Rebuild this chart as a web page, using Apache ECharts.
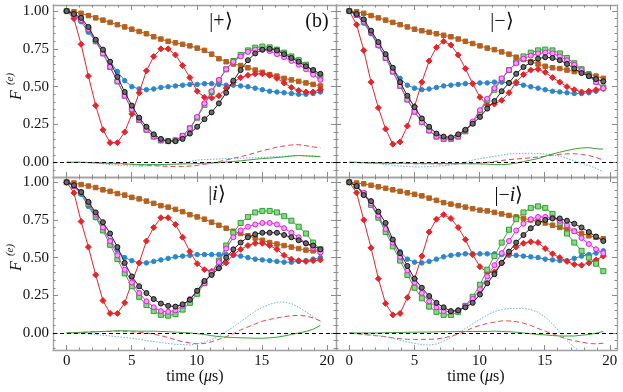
<!DOCTYPE html>
<html><head><meta charset="utf-8">
<script src="https://cdn.jsdelivr.net/npm/echarts@6/dist/echarts.min.js"></script>
<style>html,body{margin:0;padding:0;background:#fff}#c{width:623px;height:392px}</style>
</head><body><div id="c"></div>
<script>
const time = [0,0.56,1.11,1.67,2.23,2.79,3.34,3.9,4.46,5.01,5.57,6.13,6.69,7.24,7.8,8.36,8.91,9.47,10.03,10.59,11.14,11.7,12.26,12.81,13.37,13.93,14.49,15.04,15.6,16.16,16.71,17.27,17.83,18.39,18.94,19.5];
const xTicks = [0,5,10,15,20];
const yTicks = [0,0.25,0.5,0.75,1];

// |+>
const plusOrange = [1.00,0.995,0.985,0.97,0.955,0.94,0.925,0.91,0.895,0.88,0.865,0.85,0.83,0.815,0.80,0.79,0.78,0.77,0.755,0.74,0.715,0.685,0.665,0.65,0.64,0.625,0.61,0.595,0.58,0.57,0.555,0.545,0.535,0.525,0.515,0.505];
const plusBlue = [1.0,0.98,0.93,0.86,0.80,0.73,0.665,0.60,0.54,0.50,0.485,0.48,0.485,0.495,0.50,0.505,0.51,0.515,0.515,0.52,0.52,0.515,0.51,0.51,0.505,0.50,0.49,0.48,0.47,0.465,0.46,0.455,0.45,0.45,0.455,0.465];
const plusRed = [1.0,0.95,0.78,0.57,0.375,0.215,0.13,0.13,0.20,0.32,0.46,0.605,0.70,0.75,0.75,0.71,0.64,0.56,0.47,0.43,0.425,0.44,0.49,0.53,0.56,0.575,0.585,0.585,0.575,0.555,0.525,0.495,0.475,0.465,0.465,0.48];
const plusBlack = [1.0,0.98,0.955,0.895,0.81,0.745,0.665,0.565,0.465,0.375,0.295,0.235,0.185,0.155,0.14,0.14,0.155,0.19,0.235,0.285,0.33,0.39,0.46,0.54,0.61,0.675,0.72,0.745,0.75,0.74,0.715,0.69,0.665,0.635,0.61,0.585];
const plusMagenta = [1.0,0.975,0.94,0.88,0.80,0.72,0.63,0.535,0.44,0.35,0.28,0.215,0.17,0.145,0.14,0.145,0.175,0.225,0.30,0.39,0.47,0.545,0.615,0.665,0.70,0.73,0.745,0.745,0.735,0.715,0.695,0.67,0.645,0.615,0.58,0.545];
const plusGreen = [1.0,0.975,0.94,0.88,0.80,0.72,0.63,0.535,0.44,0.35,0.28,0.215,0.17,0.145,0.14,0.145,0.175,0.225,0.295,0.38,0.465,0.54,0.615,0.67,0.71,0.74,0.758,0.765,0.76,0.745,0.725,0.70,0.675,0.645,0.605,0.565];
const plusRedDash = [0,0,0,0,-0.002,-0.005,-0.008,-0.01,-0.012,-0.015,-0.018,-0.02,-0.022,-0.025,-0.027,-0.028,-0.028,-0.025,-0.02,-0.013,-0.005,0.005,0.015,0.027,0.037,0.05,0.063,0.077,0.088,0.10,0.108,0.115,0.117,0.11,0.102,0.095];
const plusBlueDot = [0,0,0,-0.003,-0.005,-0.01,-0.015,-0.02,-0.022,-0.025,-0.025,-0.025,-0.022,-0.02,-0.018,-0.015,-0.01,0.005,0.015,0.018,0.02,0.022,0.025,0.025,0.027,0.03,0.03,0.032,0.035,0.037,0.04,0.042,0.045,0.045,0.043,0.04];
const plusGreenLine = [0,0,0,-0.002,-0.003,-0.005,-0.005,-0.007,-0.01,-0.012,-0.015,-0.015,-0.015,-0.015,-0.013,-0.012,-0.01,-0.01,-0.008,-0.006,-0.004,-0.002,0.002,0.006,0.01,0.015,0.02,0.025,0.028,0.032,0.036,0.042,0.045,0.042,0.04,0.037];

// |->
const minusOrange = [1.0,0.995,0.985,0.97,0.955,0.94,0.925,0.91,0.895,0.88,0.87,0.86,0.85,0.84,0.83,0.815,0.80,0.785,0.77,0.755,0.745,0.73,0.715,0.695,0.68,0.665,0.65,0.635,0.625,0.62,0.61,0.60,0.595,0.585,0.57,0.555];
const minusBlue = [1.0,0.975,0.92,0.85,0.77,0.69,0.62,0.555,0.51,0.49,0.48,0.485,0.495,0.505,0.51,0.515,0.52,0.52,0.525,0.525,0.53,0.53,0.525,0.52,0.51,0.50,0.49,0.48,0.47,0.465,0.46,0.455,0.455,0.46,0.47,0.485];
const minusRed = [1.0,0.91,0.74,0.53,0.36,0.22,0.12,0.135,0.24,0.37,0.53,0.67,0.76,0.80,0.775,0.71,0.62,0.52,0.43,0.38,0.385,0.41,0.46,0.53,0.58,0.61,0.615,0.595,0.56,0.53,0.50,0.48,0.465,0.47,0.48,0.49];
const minusBlack = [1.0,0.98,0.945,0.87,0.795,0.715,0.625,0.53,0.44,0.365,0.29,0.235,0.19,0.17,0.165,0.185,0.215,0.255,0.30,0.355,0.405,0.47,0.525,0.585,0.63,0.66,0.685,0.695,0.69,0.675,0.65,0.62,0.59,0.57,0.55,0.535];
const minusMagenta = [1.0,0.975,0.93,0.86,0.775,0.69,0.60,0.505,0.415,0.335,0.265,0.21,0.17,0.155,0.155,0.17,0.21,0.27,0.345,0.42,0.49,0.555,0.61,0.655,0.685,0.705,0.72,0.725,0.72,0.70,0.675,0.645,0.61,0.57,0.53,0.49];
const minusGreen = [1.0,0.975,0.93,0.86,0.775,0.69,0.60,0.505,0.415,0.335,0.265,0.21,0.17,0.155,0.155,0.17,0.205,0.26,0.33,0.41,0.48,0.55,0.61,0.66,0.70,0.725,0.74,0.745,0.74,0.72,0.69,0.655,0.615,0.575,0.535,0.495];
const minusRedDash = [0,-0.002,-0.004,-0.005,-0.006,-0.007,-0.008,-0.008,-0.009,-0.01,-0.01,-0.01,-0.01,-0.01,-0.01,-0.01,-0.009,-0.008,-0.005,0,0.005,0.012,0.018,0.022,0.026,0.03,0.035,0.04,0.047,0.053,0.056,0.057,0.052,0.045,0.032,0.015];
const minusBlueDot = [0,0,-0.003,-0.005,-0.008,-0.015,-0.02,-0.025,-0.028,-0.03,-0.03,-0.028,-0.025,-0.022,-0.018,-0.012,0,0.015,0.025,0.032,0.04,0.048,0.055,0.058,0.06,0.06,0.058,0.055,0.05,0.04,0.025,0.01,-0.005,-0.02,-0.04,-0.062];
const minusGreenLine = [0,0,-0.002,-0.003,-0.004,-0.005,-0.005,-0.005,-0.006,-0.006,-0.007,-0.007,-0.008,-0.008,-0.008,-0.008,-0.009,-0.01,-0.01,-0.012,-0.015,-0.015,-0.012,-0.005,0.005,0.015,0.025,0.04,0.055,0.067,0.078,0.088,0.095,0.097,0.09,0.087];

// |i>
const iOrange = [1.0,0.995,0.985,0.975,0.965,0.95,0.94,0.925,0.915,0.90,0.89,0.875,0.86,0.845,0.835,0.82,0.805,0.785,0.77,0.755,0.735,0.715,0.695,0.675,0.66,0.645,0.63,0.615,0.60,0.59,0.58,0.57,0.56,0.55,0.545,0.54];
const iBlue = [1.0,0.975,0.92,0.84,0.765,0.69,0.615,0.55,0.50,0.48,0.465,0.465,0.475,0.485,0.495,0.505,0.51,0.515,0.52,0.52,0.52,0.52,0.52,0.515,0.51,0.50,0.49,0.485,0.48,0.475,0.47,0.47,0.475,0.48,0.49,0.50];
const iRed = [1.0,0.93,0.74,0.57,0.385,0.215,0.13,0.13,0.20,0.335,0.465,0.61,0.70,0.765,0.765,0.72,0.635,0.54,0.46,0.42,0.41,0.43,0.465,0.52,0.555,0.58,0.595,0.595,0.58,0.555,0.515,0.49,0.48,0.475,0.48,0.485];
const iBlack = [1.0,0.98,0.935,0.87,0.80,0.735,0.66,0.57,0.465,0.375,0.31,0.265,0.225,0.195,0.18,0.175,0.19,0.22,0.28,0.345,0.385,0.43,0.50,0.555,0.60,0.635,0.655,0.665,0.665,0.665,0.65,0.635,0.615,0.595,0.58,0.555];
const iMagenta = [1.0,0.975,0.935,0.865,0.785,0.70,0.61,0.515,0.42,0.335,0.265,0.21,0.17,0.145,0.14,0.15,0.18,0.225,0.28,0.33,0.40,0.47,0.56,0.635,0.68,0.705,0.72,0.73,0.73,0.72,0.695,0.665,0.635,0.595,0.565,0.535];
const iGreen = [1.0,0.975,0.93,0.855,0.77,0.68,0.585,0.49,0.395,0.31,0.24,0.185,0.145,0.12,0.115,0.125,0.155,0.20,0.26,0.33,0.40,0.48,0.58,0.665,0.73,0.77,0.80,0.81,0.81,0.80,0.775,0.745,0.705,0.66,0.60,0.555];
const iRedDash = [0,0.002,0.004,0.006,0.008,0.01,0.01,0.012,0.01,0.008,0.005,0,-0.008,-0.018,-0.03,-0.045,-0.058,-0.066,-0.072,-0.07,-0.058,-0.042,-0.025,-0.005,0.02,0.04,0.06,0.078,0.09,0.10,0.108,0.115,0.117,0.113,0.10,0.08];
const iBlueDot = [0,0,-0.003,-0.006,-0.01,-0.015,-0.02,-0.025,-0.03,-0.035,-0.042,-0.05,-0.057,-0.063,-0.07,-0.075,-0.078,-0.08,-0.072,-0.06,-0.045,-0.02,0.008,0.04,0.075,0.11,0.145,0.17,0.19,0.205,0.205,0.195,0.17,0.14,0.11,0.075];
const iGreenLine = [0,0.002,0.004,0.006,0.008,0.01,0.012,0.015,0.015,0.013,0.012,0.012,0.012,0.01,0.008,0.006,0.003,0,-0.005,-0.01,-0.018,-0.024,-0.028,-0.03,-0.032,-0.033,-0.035,-0.035,-0.032,-0.028,-0.02,-0.01,0,0.01,0.025,0.05];

// |-i>
const miOrange = [1.0,0.995,0.99,0.98,0.97,0.96,0.95,0.94,0.93,0.92,0.91,0.895,0.88,0.865,0.855,0.845,0.835,0.825,0.815,0.81,0.80,0.79,0.78,0.77,0.76,0.75,0.74,0.73,0.715,0.70,0.69,0.675,0.66,0.645,0.635,0.625];
const miBlue = [1.0,0.975,0.925,0.85,0.77,0.69,0.61,0.54,0.49,0.47,0.465,0.475,0.49,0.505,0.515,0.52,0.525,0.525,0.525,0.525,0.525,0.52,0.515,0.515,0.51,0.505,0.50,0.49,0.485,0.48,0.48,0.495,0.51,0.52,0.53,0.545];
const miRed = [1.0,0.93,0.75,0.565,0.36,0.195,0.12,0.13,0.235,0.36,0.51,0.67,0.755,0.785,0.76,0.70,0.62,0.52,0.44,0.40,0.405,0.465,0.525,0.57,0.595,0.605,0.60,0.56,0.525,0.50,0.475,0.455,0.45,0.465,0.485,0.51];
const miBlack = [1.0,0.975,0.915,0.875,0.805,0.73,0.62,0.53,0.445,0.36,0.30,0.245,0.20,0.17,0.145,0.15,0.17,0.20,0.255,0.33,0.39,0.465,0.54,0.60,0.65,0.695,0.73,0.75,0.76,0.76,0.745,0.725,0.70,0.67,0.64,0.61];
const miMagenta = [1.0,0.975,0.93,0.86,0.78,0.69,0.60,0.505,0.415,0.335,0.265,0.21,0.17,0.145,0.14,0.15,0.18,0.225,0.29,0.375,0.45,0.53,0.61,0.68,0.725,0.755,0.77,0.77,0.765,0.745,0.715,0.675,0.63,0.59,0.555,0.53];
const miGreen = [1.0,0.975,0.925,0.85,0.765,0.67,0.575,0.48,0.385,0.30,0.23,0.175,0.14,0.12,0.12,0.14,0.18,0.24,0.32,0.42,0.51,0.60,0.685,0.755,0.80,0.83,0.84,0.83,0.79,0.73,0.66,0.60,0.545,0.50,0.46,0.41];
const miRedDash = [0,-0.005,-0.01,-0.015,-0.02,-0.025,-0.032,-0.038,-0.042,-0.043,-0.043,-0.042,-0.04,-0.033,-0.022,-0.008,0.012,0.035,0.05,0.063,0.072,0.08,0.08,0.075,0.065,0.05,0.03,0.012,-0.005,-0.025,-0.04,-0.052,-0.06,-0.07,-0.072,-0.068];
const miBlueDot = [0,-0.003,-0.008,-0.013,-0.018,-0.024,-0.035,-0.048,-0.06,-0.068,-0.078,-0.08,-0.073,-0.055,-0.03,0,0.03,0.06,0.09,0.12,0.142,0.155,0.162,0.163,0.163,0.155,0.138,0.105,0.06,0.005,-0.05,-0.095,-0.13,null,null,null];
const miGreenLine = [0,0,0,0,0,0.002,0.003,0.003,0.005,0.005,0.006,0.006,0.008,0.008,0.008,0.01,0.01,0.01,0.01,0.01,0.012,0.01,0.008,0.005,0,-0.005,-0.01,-0.013,-0.017,-0.02,-0.02,-0.02,-0.015,-0.01,-0.002,0.01];

const panels = [
  {grid:{left:53,top:5,width:283,height:172}, xr:[-1.05,20.7], yr:[-0.097,1.04], xl:false, yl:true,
   d:[plusOrange,plusBlue,plusRed,plusGreen,plusMagenta,plusBlack,plusRedDash,plusBlueDot,plusGreenLine]},
  {grid:{left:336,top:5,width:281,height:172}, xr:[-1.02,20.55], yr:[-0.097,1.04], xl:false, yl:false,
   d:[minusOrange,minusBlue,minusRed,minusGreen,minusMagenta,minusBlack,minusRedDash,minusBlueDot,minusGreenLine]},
  {grid:{left:53,top:177,width:283,height:173}, xr:[-1.05,20.7], yr:[-0.113,1.035], xl:true, yl:true,
   d:[iOrange,iBlue,iRed,iGreen,iMagenta,iBlack,iRedDash,iBlueDot,iGreenLine]},
  {grid:{left:336,top:177,width:281,height:173}, xr:[-1.02,20.55], yr:[-0.113,1.035], xl:true, yl:false,
   d:[miOrange,miBlue,miRed,miGreen,miMagenta,miBlack,miRedDash,miBlueDot,miGreenLine]}
];

const xMinor = [], yMinor = [];
for (let v = 0; v <= 20; v += 1) if (v % 5) xMinor.push(v);
for (let k = -2; k <= 20; k++) { const v = +(k*0.05).toFixed(2); if (k % 5) yMinor.push(v); }

const frame = {color:'#a0a0a0', width:1.3};
const tickC = '#8a8a8a';
const serif = "'Liberation Serif', serif";

const grids = [], xAxes = [], yAxes = [], series = [];
const styles = [
  {color:'#b5601f', symbol:'rect', size:4.5, border:'#b5601f'},
  {color:'#2c86cc', symbol:'circle', size:4.5, border:'#2c86cc'},
  {color:'#e3262b', symbol:'diamond', size:6, border:'#e3262b'},
  {color:'#8ad68a', symbol:'rect', size:5, border:'#2ea02e', line:'#3aa83a'},
  {color:'#ff9cff', symbol:'circle', size:5, border:'#e020e0', line:'#e030e0'},
  {color:'#6a6a6a', symbol:'circle', size:5, border:'#111111', line:'#222222'}
];
const thin = [
  {color:'#e8464a', type:[5,3]},
  {color:'#6aaede', type:[1.5,1.5]},
  {color:'#36a336', type:'solid'}
];

panels.forEach((p, i) => {
  grids.push(Object.assign({containLabel:false}, p.grid));
  const mkX = (pos, vals, len, lab, line) => ({
    type:'value', gridIndex:i, position:pos, min:p.xr[0], max:p.xr[1],
    axisLine:{show:line, onZero:false, lineStyle:frame},
    axisTick:{show:true, inside:true, length:len, customValues:vals, lineStyle:{color:tickC, width:1}},
    axisLabel:{show:lab, customValues:vals, margin:4, color:'#111', fontFamily:serif, fontSize:15},
    splitLine:{show:false}
  });
  const mkY = (pos, vals, len, lab, line) => ({
    type:'value', gridIndex:i, position:pos, min:p.yr[0], max:p.yr[1],
    axisLine:{show:line, onZero:false, lineStyle:frame},
    axisTick:{show:true, inside:true, length:len, customValues:vals, lineStyle:{color:tickC, width:1}},
    axisLabel:{show:lab, customValues:vals, margin:4, color:'#111', fontFamily:serif, fontSize:15,
               formatter: v => v.toFixed(2)},
    splitLine:{show:false}
  });
  const xi = xAxes.length, yi = yAxes.length;
  xAxes.push(mkX('bottom', xTicks, 5, p.xl, true));
  xAxes.push(mkX('bottom', xMinor, 2.5, false, false));
  xAxes.push(mkX('top', xTicks, 5, false, true));
  xAxes.push(mkX('top', xMinor, 2.5, false, false));
  yAxes.push(mkY('left', yTicks, 5, p.yl, true));
  yAxes.push(mkY('left', yMinor, 2.5, false, false));
  yAxes.push(mkY('right', yTicks, 5, false, true));
  yAxes.push(mkY('right', yMinor, 2.5, false, false));

  for (let k = 0; k < 3; k++) {
    const s = {
      type:'line', xAxisIndex:xi, yAxisIndex:yi, showSymbol:false, symbol:'none', clip:true,
      data: time.map((t, j) => [t, p.d[6+k][j]]),
      lineStyle:{color:thin[k].color, width:1, type:thin[k].type}, z:2
    };
    if (k === 2) s.markLine = {silent:true, symbol:'none', label:{show:false},
      lineStyle:{color:'#000', type:[4,3], width:1}, data:[{yAxis:0}]};
    series.push(s);
  }
  for (let k = 0; k < 6; k++) {
    const st = styles[k];
    series.push({
      type:'line', xAxisIndex:xi, yAxisIndex:yi, clip:true,
      data: time.map((t, j) => [t, p.d[k][j]]),
      symbol:st.symbol, symbolSize:st.size, showSymbol:true,
      lineStyle:{color:st.line || st.color, width:1},
      itemStyle:{color:st.color, borderColor:st.border, borderWidth:1},
      z:3+k
    });
  }
});

const txt = (x, y, text, extra) => Object.assign({type:'text', x, y, silent:true,
  style:Object.assign({text, fill:'#111', fontFamily:serif, fontSize:20, align:'center', verticalAlign:'middle', textAlign:'center', textVerticalAlign:'middle'}, extra || {})});

const graphic = [
  txt(221, 22, '|+⟩'),
  txt(317, 22, '(b)'),
  txt(502, 22, '|−⟩'),
  txt(217, 195, '{n||}{i|i}{n|⟩}', {rich:{n:{fontFamily:serif, fontSize:20, fill:'#111'}, i:{fontFamily:serif, fontSize:20, fontStyle:'italic', fill:'#111'}}}),
  txt(509, 196, '{n||−}{i|i}{n|⟩}', {rich:{n:{fontFamily:serif, fontSize:20, fill:'#111'}, i:{fontFamily:serif, fontSize:20, fontStyle:'italic', fill:'#111'}}}),
  txt(195, 377, '{n|time (}{i|μ}{n|s)}', {rich:{n:{fontFamily:serif, fontSize:16, fill:'#111'}, i:{fontFamily:serif, fontSize:16, fontStyle:'italic', fill:'#111'}}}),
  txt(476, 377, '{n|time (}{i|μ}{n|s)}', {rich:{n:{fontFamily:serif, fontSize:16, fill:'#111'}, i:{fontFamily:serif, fontSize:16, fontStyle:'italic', fill:'#111'}}})
];
[[95, 79], [266, 250]].forEach(([yf, ye]) => {
  graphic.push(Object.assign(txt(17, yf, 'F', {fontSize:16, fontStyle:'italic'}), {rotation:Math.PI/2}));
  graphic.push(Object.assign(txt(10, ye, '(e)', {fontSize:11, fontStyle:'italic'}), {rotation:Math.PI/2}));
});

const chart = echarts.init(document.getElementById('c'), null, {renderer:'canvas'});
chart.setOption({
  animation:false, backgroundColor:'#fff',
  grid:grids, xAxis:xAxes, yAxis:yAxes, series, graphic
});
</script></body></html>
